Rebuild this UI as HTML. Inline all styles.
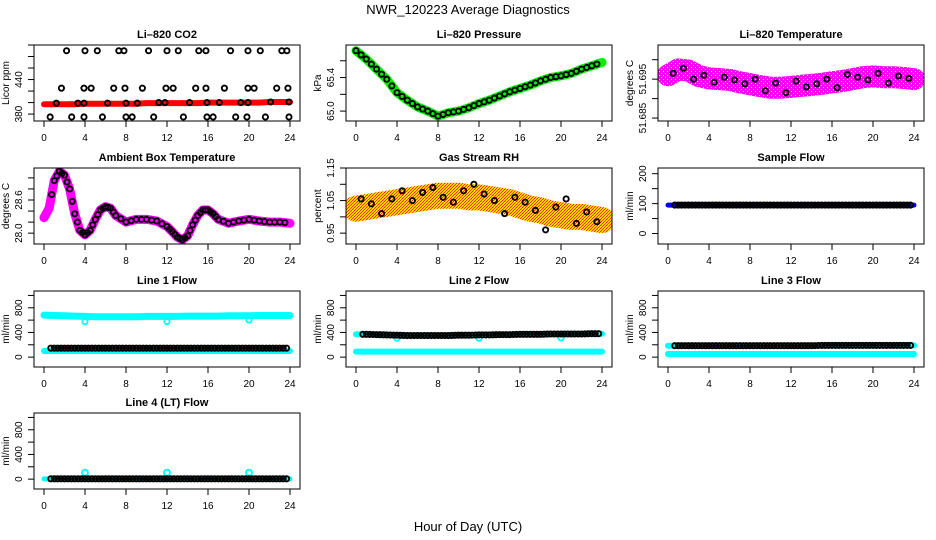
<!DOCTYPE html>
<html><head><meta charset="utf-8"><style>
body{margin:0;background:#fff}
svg{display:block;font-family:"Liberation Sans",sans-serif}
</style></head><body>
<svg id="c" width="936" height="540" viewBox="0 0 936 540" xmlns="http://www.w3.org/2000/svg">
<defs>
<pattern id="magPat" width="4" height="4" patternUnits="userSpaceOnUse"><rect width="4" height="4" fill="#ff00ff"/><rect x="1" y="1" width="1" height="1" fill="#ffb0ff"/><rect x="3" y="3" width="1" height="1" fill="#fff"/></pattern>
<pattern id="rhPat" width="3" height="3" patternUnits="userSpaceOnUse"><rect width="3" height="3" fill="#ffd800"/><rect x="0" y="0" width="1" height="1" fill="#ff2000"/><rect x="2" y="1" width="1" height="1" fill="#ff4000"/><rect x="1" y="2" width="1" height="1" fill="#ff3000"/></pattern>
</defs>
<text x="468" y="14" font-size="13" text-anchor="middle">NWR_120223  Average Diagnostics</text>
<text x="468" y="531" font-size="13" text-anchor="middle">Hour of Day (UTC)</text>
</svg>
<script>
const hours=[0,1,2,3,4,5,6,7,8,9,10,11,12,13,14,15,16,17,18,19,20,21,22,23,24];
const halfHours=[0.5,1.5,2.5,3.5,4.5,5.5,6.5,7.5,8.5,9.5,10.5,11.5,12.5,13.5,14.5,15.5,16.5,17.5,18.5,19.5,20.5,21.5,22.5,23.5];
const xTicks=[0,4,8,12,16,20,24];
// CO2
const co2Line=[397,397,397,397,398,398,398,398,398,398,399,399,399,399,399,399,400,400,400,400,400,400,401,401,401];
const co2HighT=[2.2,4.0,5.2,7.3,7.8,10.2,12.0,13.1,15.1,15.8,18.2,19.9,21.1,23.2,23.7];
const co2HighV=[490,490,490,490,490,490,490,490,490,490,490,490,490,490,490];
const co2MidT=[1.7,3.9,4.6,6.8,7.9,9.6,11.9,12.6,14.8,15.8,17.6,19.9,20.5,22.7,23.8];
const co2MidV=[425,425,425,425,425,425,425,425,425,425,425,425,425,425,425];
const co2LowT=[1.2,3.3,3.9,6.2,8.0,9.1,11.2,11.8,14.2,15.9,17.1,19.2,19.9,22.1,23.9];
const co2LowV=[399,399,399,399,399,399,400,400,400,400,400,400,400,401,401];
const co2MinT=[0.6,2.7,3.9,5.7,8.0,8.6,10.7,13.6,15.9,16.5,18.7,19.8,21.6,23.9];
const co2MinV=[375,375,375,375,375,375,375,375,375,375,375,375,375,375];
// Pressure
const pressV=[65.72,65.62,65.5,65.38,65.22,65.13,65.05,65.0,64.94,64.98,65.0,65.04,65.09,65.13,65.18,65.23,65.27,65.31,65.36,65.4,65.42,65.45,65.5,65.54,65.58];
// Li-820 temperature
const tempV=[51.6960,51.6975,51.6972,51.6958,51.6952,51.6950,51.6948,51.6942,51.6937,51.6932,51.6928,51.6928,51.6930,51.6933,51.6935,51.6938,51.6942,51.6945,51.6950,51.6955,51.6957,51.6955,51.6955,51.6953,51.6950];
const tempBlk=[51.6965,51.6978,51.6950,51.6960,51.6942,51.6955,51.6948,51.6938,51.6950,51.6920,51.6940,51.6915,51.6945,51.6930,51.6938,51.6950,51.6928,51.6962,51.6955,51.6948,51.6965,51.6940,51.6958,51.6952];
// Ambient
const ambT=[0,0.5,1,1.5,2,2.5,3,3.5,4,4.5,5,5.5,6,6.5,7,8,9,10,11,12,12.5,13,13.5,14,14.5,15,15.5,16,16.5,17,18,19,20,21,22,23,24];
const ambV=[28.28,28.45,28.95,29.12,29.05,28.8,28.35,28.05,27.97,28.05,28.25,28.42,28.48,28.45,28.32,28.2,28.25,28.25,28.22,28.12,28.03,27.93,27.88,27.95,28.15,28.32,28.42,28.42,28.35,28.25,28.18,28.22,28.25,28.22,28.2,28.2,28.18];
// RH
const rhV=[1.025,1.03,1.035,1.04,1.045,1.05,1.055,1.06,1.065,1.065,1.065,1.06,1.06,1.055,1.05,1.045,1.035,1.025,1.02,1.01,1.005,1.0,1.0,0.995,0.99];
const rhBlk=[1.055,1.04,1.01,1.055,1.08,1.05,1.075,1.09,1.06,1.045,1.08,1.10,1.07,1.05,1.01,1.06,1.045,1.02,0.96,1.03,1.055,0.98,1.015,0.985];
// Flows (hourly)
const sampleFlow=[95,95,95,95,95,95,95,95,95,95,95,95,95,95,95,95,95,95,95,95,95,95,95,95,95];
const l1Hi=[680,675,670,665,660,655,655,655,655,655,660,660,660,660,665,665,665,665,670,670,670,675,675,675,675];
const l1Lo=[100,100,100,100,100,100,100,100,100,100,100,100,100,100,100,100,100,100,100,100,100,100,100,100,100];
const l1Blk=[145,145,145,145,145,145,145,145,145,145,145,145,145,145,145,145,145,145,145,145,145,145,145,145,145];
const l2Hi=[370,370,365,360,355,350,350,350,350,350,355,355,360,360,365,365,370,370,370,375,375,375,375,380,380];
const l2Lo=[90,90,90,90,90,90,90,90,90,90,90,90,90,90,90,90,90,90,90,90,90,90,90,90,90];
const l2Blk=[370,370,365,360,355,350,350,350,350,350,355,355,360,360,365,365,370,370,370,375,375,375,375,380,380];
const l3Hi=[185,185,185,185,185,185,185,185,185,185,185,185,185,185,185,190,190,190,190,190,190,190,190,190,190];
const l3Lo=[50,50,50,50,50,50,50,50,50,50,50,50,50,50,50,50,50,50,50,50,50,50,50,50,50];
const l3Blk=[185,185,185,185,185,185,185,185,185,185,185,185,185,185,185,190,190,190,190,190,190,190,190,190,190];
const l4Cy=[5,5,5,5,5,5,5,5,5,5,5,5,5,5,5,5,5,5,5,5,5,5,5,5,5];
const l4Blk=[5,5,5,5,5,5,5,5,5,5,5,5,5,5,5,5,5,5,5,5,5,5,5,5,5];
const outT=[4,12,20];
const l1Out=[575,575,600];
const l2Out=[305,305,310];
const l4Out=[105,105,105];

const svg=document.getElementById('c');
const NS='http://www.w3.org/2000/svg';
function mk(tag,attrs,parent){const e=document.createElementNS(NS,tag);for(const k in attrs)e.setAttribute(k,attrs[k]);(parent||svg).appendChild(e);return e;}
const rowTop=[45,168,291,413], H=76;

function panel(col,row,name,title,ylab,ymin,ymax,yticks,ylabels){
  const L=34+312*col, R=L+266, T=rowTop[row], B=T+H;
  const g=mk('g',{});
  
  
  const xs=t=>L+10+t/24*246;
  const ys=v=>B-(v-ymin)/(ymax-ymin)*H;
  const clip='clip'+col+row;
  const cp=mk('clipPath',{id:clip},g);mk('rect',{x:L,y:T,width:R-L,height:H},cp);
  const plot=mk('g',{'clip-path':'url(#'+clip+')'},g);
  
  
  const t=mk('text',{x:(L+R)/2,y:T-7,'font-size':11,'font-weight':'bold','text-anchor':'middle'},g);t.textContent=title;
  
  
  const box=mk('rect',{x:L,y:T,width:R-L,height:H,fill:'none',stroke:'#000','stroke-width':1},g);
  
  
  const xa=mk('g',{},g);
  
  
  xTicks.forEach(v=>{mk('line',{x1:xs(v),x2:xs(v),y1:B,y2:B+6,stroke:'#000'},xa);
    const tx=mk('text',{x:xs(v),y:B+20,'font-size':10,'text-anchor':'middle'},xa);tx.textContent=v;});
  const ya=mk('g',{},g);
  
  
  yticks.forEach(v=>{mk('line',{x1:L-6,x2:L,y1:ys(v),y2:ys(v),stroke:'#000'},ya);});
  ylabels.forEach(v=>{const y=ys(v);const tx=mk('text',{x:L-12,y:y,'font-size':10,'text-anchor':'middle',transform:`rotate(-90 ${L-12} ${y})`},ya);tx.textContent=v;});
  const yl=mk('text',{x:L-25,y:(T+B)/2,'font-size':10,'text-anchor':'middle',transform:`rotate(-90 ${L-25} ${(T+B)/2})`},g);yl.textContent=ylab;
  
  
  return {xs,ys,plot};
}
function band(p,T,V,color,w,name){
  const e=mk('polyline',{points:T.map((t,i)=>p.xs(t)+','+p.ys(V[i])).join(' '),fill:'none',stroke:color,'stroke-width':w,'stroke-linejoin':'round','stroke-linecap':'round'},p.plot);
  
  
}
function pts(p,T,V,color,name,r){
  const g=mk('g',{},p.plot);
  
  
  T.forEach((t,i)=>{const c=mk('circle',{cx:p.xs(t),cy:p.ys(V[i]),r:r||2.6,fill:'none',stroke:color,'stroke-width':1.9},g);
    
    });
}
function chain(p,T,V,color,name,startT,per){
  per=per||3;
  const g=mk('g',{},p.plot);
  
  
  for(let i=0;i<T.length-1;i++){for(let k=0;k<per;k++){const f=k/per;const t=T[i]+(T[i+1]-T[i])*f;if(t<(startT||0))continue;
    const v=V[i]+(V[i+1]-V[i])*f;const c=mk('circle',{cx:p.xs(t),cy:p.ys(v),r:2.6,fill:'none',stroke:color,'stroke-width':1.9},g);
    
    }}
}
// Row 1
let p=panel(0,0,'co2','Li\u2013820 CO2','Licor ppm',368,500,[380,400,420,440,460,480,500],[380,440]);
band(p,hours,co2Line,'#ff0000',6,'co2-series');
pts(p,co2HighT,co2HighV,'#000','co2-high-points');pts(p,co2MidT,co2MidV,'#000','co2-mid-points');
pts(p,co2LowT,co2LowV,'#000','co2-low-points');pts(p,co2MinT,co2MinV,'#000','co2-min-points');
p=panel(1,0,'pressure','Li\u2013820 Pressure','kPa',64.882,65.788,[65.0,65.2,65.4,65.6],['65.0','65.4']);
band(p,hours,pressV,'#00ee00',9,'pressure-series');chain(p,hours,pressV,'#000','pressure-points',0,2);
p=panel(2,0,'li820-temperature','Li\u2013820 Temperature','degrees C',51.68424,51.70378,[51.685,51.690,51.695,51.700],['51.685','51.695']);
band(p,hours,tempV,'url(#magPat)',22,'temperature-series');
pts(p,halfHours,tempBlk,'#000','temperature-points');
// Row 2
p=panel(0,1,'ambient-temperature','Ambient Box Temperature','degrees C',27.804,29.179,[28.0,28.2,28.4,28.6,28.8,29.0],['28.0','28.6']);
band(p,ambT,ambV,'#ff00ff',9,'ambient-series');chain(p,ambT,ambV,'#000','ambient-points',0.6,2);
p=panel(1,1,'gas-stream-rh','Gas Stream RH','percent',0.9167,1.15,[0.95,1.0,1.05,1.1,1.15],['0.95','1.05','1.15']);
band(p,hours,rhV,'url(#rhPat)',26,'rh-series');
pts(p,halfHours,rhBlk,'#000','rh-points');
p=panel(2,1,'sample-flow','Sample Flow','ml/min',-35,219,[0,50,100,150,200],[0,100,200]);
band(p,hours,sampleFlow,'#0000ff',5,'sample-flow-series');chain(p,hours,sampleFlow,'#000','sample-flow-points',0.5);
// Row 3-4
const fT=[0,200,400,600,800,1000], fL=[0,400,800];
p=panel(0,2,'line1-flow','Line 1 Flow','ml/min',-160,1072,fT,fL);
band(p,hours,l1Hi,'#00ffff',7,'line1-high-series');band(p,hours,l1Lo,'#00ffff',6,'line1-low-series');
pts(p,outT,l1Out,'#00ffff','line1-outliers');chain(p,hours,l1Blk,'#000','line1-points',0.5);
p=panel(1,2,'line2-flow','Line 2 Flow','ml/min',-160,1072,fT,fL);
band(p,hours,l2Hi,'#00ffff',6,'line2-high-series');band(p,hours,l2Lo,'#00ffff',6,'line2-low-series');
pts(p,outT,l2Out,'#00ffff','line2-outliers');chain(p,hours,l2Blk,'#000','line2-points',0.5);
p=panel(2,2,'line3-flow','Line 3 Flow','ml/min',-160,1072,fT,fL);
band(p,hours,l3Hi,'#00ffff',6,'line3-high-series');band(p,hours,l3Lo,'#00ffff',6,'line3-low-series');
chain(p,hours,l3Blk,'#000','line3-points',0.5);
p=panel(0,3,'line4-flow','Line 4 (LT) Flow','ml/min',-160,1072,fT,fL);
band(p,hours,l4Cy,'#00ffff',5,'line4-series');pts(p,outT,l4Out,'#00ffff','line4-outliers',3);
chain(p,hours,l4Blk,'#000','line4-points',0.5);
</script>
</body></html>
